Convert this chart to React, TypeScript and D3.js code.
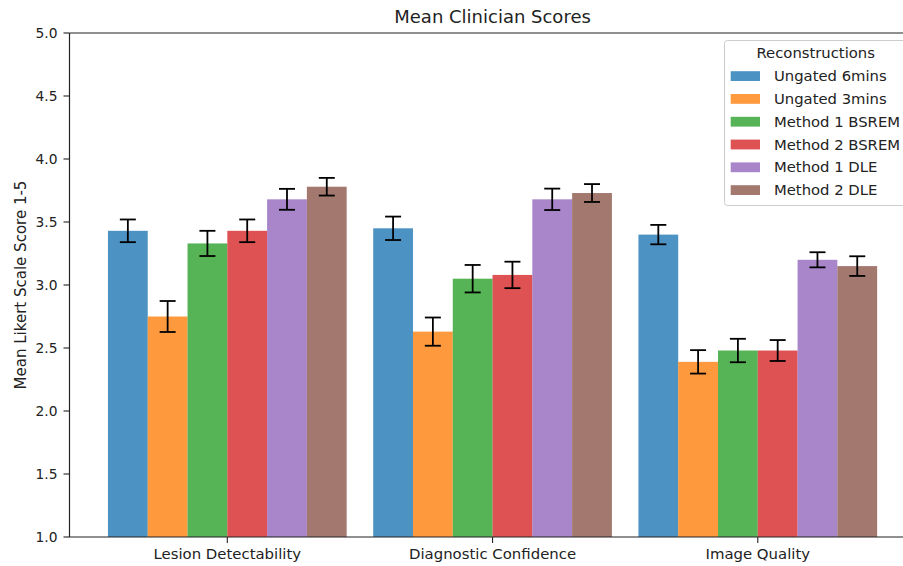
import React from "react";
import * as d3 from "d3";

const categories = ["Lesion Detectability", "Diagnostic Confidence", "Image Quality"];
const seriesNames = ["Ungated 6mins", "Ungated 3mins", "Method 1 BSREM", "Method 2 BSREM", "Method 1 DLE", "Method 2 DLE"];
const seriesColors = ["#1f77b4", "#ff7f0e", "#2ca02c", "#d62728", "#9467bd", "#8c564b"];
// values[series][category]
const means = [
  [3.43, 3.45, 3.40],
  [2.75, 2.63, 2.39],
  [3.33, 3.05, 2.48],
  [3.43, 3.08, 2.48],
  [3.68, 3.68, 3.20],
  [3.78, 3.73, 3.15],
];
const errors = [
  [0.09, 0.093, 0.077],
  [0.123, 0.112, 0.093],
  [0.10, 0.109, 0.093],
  [0.09, 0.105, 0.083],
  [0.083, 0.085, 0.06],
  [0.07, 0.071, 0.078],
];
const yTicks = [1.0, 1.5, 2.0, 2.5, 3.0, 3.5, 4.0, 4.5, 5.0];

const W = 903;
const H = 566;
const left = 69.5;
const right = 915.6;
const top = 33;
const bottom = 537;
const barW = 0.15;

export default function App() {
  const x = d3.scaleLinear().domain([-0.595, 2.595]).range([left, right]);
  const y = d3.scaleLinear().domain([1, 5]).range([bottom, top]);
  const font = "DejaVu Sans, sans-serif";
  const bw = x(barW) - x(0);
  const cap = 8;

  return (
    <svg width={W} height={H} style={{ position: "absolute", left: 0, top: 0, background: "#fff" }} fontFamily={font}>
      <rect x={0} y={0} width={W} height={H} fill="#fff" />
      {/* bars */}
      {seriesNames.map((s, si) =>
        categories.map((c, ci) => {
          const cx = ci + (si - 2.5) * barW;
          return (
            <rect key={s + c} x={x(cx) - bw / 2} y={y(means[si][ci])} width={bw} height={y(1) - y(means[si][ci])}
              fill={seriesColors[si]} fillOpacity={0.8} />
          );
        })
      )}
      {/* error bars */}
      {seriesNames.map((s, si) =>
        categories.map((c, ci) => {
          const cx = x(ci + (si - 2.5) * barW);
          const lo = y(means[si][ci] - errors[si][ci]);
          const hi = y(means[si][ci] + errors[si][ci]);
          return (
            <g key={"e" + s + c} stroke="#000" strokeWidth={1.8}>
              <line x1={cx} x2={cx} y1={lo} y2={hi} />
              <line x1={cx - cap} x2={cx + cap} y1={lo} y2={lo} />
              <line x1={cx - cap} x2={cx + cap} y1={hi} y2={hi} />
            </g>
          );
        })
      )}
      {/* spines */}
      <g stroke="#222" strokeWidth={1.2} fill="none">
        <line x1={left} x2={left} y1={top} y2={bottom} />
        <line x1={left} x2={right} y1={bottom} y2={bottom} />
        <line x1={left} x2={right} y1={top} y2={top} />
        <line x1={right} x2={right} y1={top} y2={bottom} />
      </g>
      {/* y ticks */}
      {yTicks.map((t) => (
        <g key={"y" + t}>
          <line x1={left - 6} x2={left} y1={y(t)} y2={y(t)} stroke="#222" strokeWidth={1.1} />
          <text x={left - 12} y={y(t)} dy="0.35em" textAnchor="end" fontSize={13.8} fill="#222">
            {t.toFixed(1)}
          </text>
        </g>
      ))}
      {/* x ticks */}
      {categories.map((c, ci) => (
        <g key={"x" + c}>
          <line x1={x(ci)} x2={x(ci)} y1={bottom} y2={bottom + 6} stroke="#222" strokeWidth={1.1} />
          <text x={x(ci)} y={bottom + 17} dy="0.35em" textAnchor="middle" fontSize={14.9} fill="#222">
            {c}
          </text>
        </g>
      ))}
      {/* y label */}
      <text transform={`translate(21,${(top + bottom) / 2}) rotate(-90)`} textAnchor="middle" dy="0.35em" fontSize={15} fill="#222">
        Mean Likert Scale Score 1-5
      </text>
      {/* title */}
      <text x={(left + right) / 2} y={17} dy="0.35em" textAnchor="middle" fontSize={18} fill="#222">
        Mean Clinician Scores
      </text>
      {/* legend */}
      <g>
        <rect x={724.5} y={40.5} width={190} height={165} rx={3} fill="#fff" fillOpacity={0.8} stroke="#ccc" strokeWidth={1} />
        <text x={815.7} y={53.3} dy="0.35em" textAnchor="middle" fontSize={14.8} fill="#222">Reconstructions</text>
        {seriesNames.map((s, si) => {
          const ry = 76 + si * 22.8;
          return (
            <g key={"l" + s}>
              <rect x={730.7} y={ry - 4.8} width={29.3} height={9.8} fill={seriesColors[si]} fillOpacity={0.8} />
              <text x={774} y={ry} dy="0.35em" fontSize={14.8} fill="#222">{s}</text>
            </g>
          );
        })}
      </g>
    </svg>
  );
}
